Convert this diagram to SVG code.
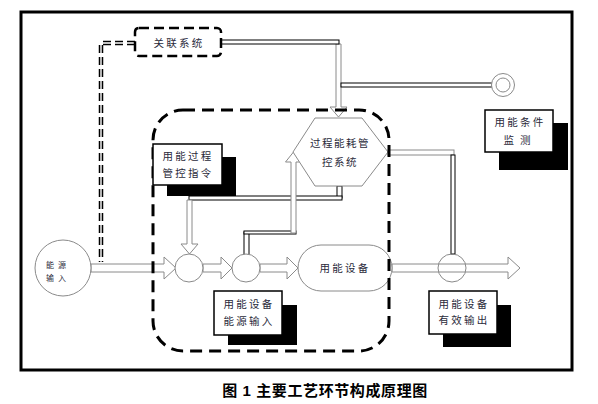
<svg xmlns="http://www.w3.org/2000/svg" width="598" height="404" viewBox="0 0 598 404">
<style>
.t{font-family:"Noto Sans CJK SC","Liberation Sans",sans-serif;font-size:10.5px;fill:#2a2a3a;text-anchor:middle;letter-spacing:2.3px}
.ha{fill:#fff;stroke:#8a8a8a;stroke-width:1}
.bl{fill:#fff;stroke:#000;stroke-width:1}
.gc{fill:#fff;stroke:#8a8a8a;stroke-width:1}
.box{fill:#fff;stroke:#000;stroke-width:1.5}
.sh{fill:#000}
</style>
<rect x="0" y="0" width="598" height="404" fill="#fff"/>
<rect x="21" y="12" width="551" height="358" fill="none" stroke="#000" stroke-width="3"/>

<g id="connectors">
  <!-- dashed link from 关联系统 down to energy input -->
  <path d="M135,43 H101 V262" fill="none" stroke="#000" stroke-width="4.5" stroke-dasharray="8 4"/>
  <path d="M135,43 H101 V262" fill="none" stroke="#fff" stroke-width="1.4" stroke-dasharray="8 4"/>
  <!-- 关联系统 to hexagon -->
  <polygon class="ha" points="336,44 336,107 330,107 338.5,117 347,107 341,107 341,44"/>
  <rect class="bl" x="221" y="40" width="118" height="4"/>
  <!-- to condition monitor target -->
  <rect class="bl" x="341" y="83" width="151" height="4"/>
  <!-- main flow -->
  <polygon class="ha" points="91,264 164,264 164,257 176,268 164,279 164,272 91,272"/>
  <polygon class="ha" points="203,264 221,264 221,257 232,268 221,279 221,272 203,272"/>
  <polygon class="ha" points="260,264 287,264 287,257 298,268 287,279 287,272 260,272"/>
  <polygon class="ha" points="392,264 508,264 508,257 520,268 508,279 508,272 392,272"/>
  <!-- hexagon bottom to circle 1 -->
  <rect class="bl" x="337" y="186" width="5" height="12"/>
  <rect class="bl" x="189" y="196" width="153" height="4"/>
  <polygon class="ha" points="187,200 187,244 181,244 189.5,254 198,244 192,244 192,200"/>
  <!-- circle 2 to hexagon -->
  <rect class="bl" x="244" y="232" width="5" height="23"/>
  <rect class="bl" x="244" y="231" width="52" height="3"/>
  <polygon class="ha" points="291,233 291,162 285.5,162 293.5,152 301.5,162 296,162 296,233"/>
  <!-- hexagon to output circle -->
  <rect class="ha" x="388" y="150" width="66" height="5"/>
  <rect class="bl" x="451" y="155" width="4" height="99"/>
</g>

<g id="energy-input">
  <circle cx="63" cy="268" r="28" class="gc"/>
  <text class="t" x="58" y="268" style="font-size:8px;letter-spacing:4px">能源</text>
  <text class="t" x="58" y="281" style="font-size:8px;letter-spacing:4px">输入</text>
</g>
<g id="junction1"><circle cx="189" cy="268" r="14" class="gc"/></g>
<g id="junction2"><circle cx="246" cy="268" r="14" class="gc"/></g>
<g id="output-junction"><circle cx="452" cy="268" r="14" fill="none" stroke="#8a8a8a" stroke-width="1"/></g>

<g id="hexagon">
  <polygon points="315,118 362,118 388,152 362,186 315,186 293,152" class="gc"/>
  <text class="t" x="340" y="147" style="letter-spacing:1.5px">过程能耗管</text>
  <text class="t" x="340" y="166" style="letter-spacing:1.5px">控系统</text>
</g>

<g id="equipment">
  <rect x="298" y="245" width="94" height="46" rx="23" class="gc"/>
  <text class="t" x="345" y="272">用能设备</text>
</g>

<g id="target">
  <circle cx="503" cy="85" r="11.5" fill="#fff" stroke="#8a8a8a" stroke-width="1"/>
  <circle cx="503" cy="85" r="7" fill="none" stroke="#8a8a8a" stroke-width="1"/>
</g>

<g id="boundary">
  <rect x="153" y="110" width="236" height="241" rx="30" fill="none" stroke="#000" stroke-width="3" stroke-dasharray="12 7"/>
</g>

<g id="related-system">
  <rect x="135" y="28" width="86" height="28" rx="4" fill="#fff" stroke="#000" stroke-width="2.5" stroke-dasharray="10 5"/>
  <text class="t" x="179" y="47">关联系统</text>
</g>

<g id="process-command">
  <rect class="sh" x="167" y="157" width="69" height="39"/>
  <rect class="box" x="153" y="144" width="69" height="41"/>
  <text class="t" x="188" y="160">用能过程</text>
  <text class="t" x="188" y="177">管控指令</text>
</g>

<g id="equipment-input">
  <rect class="sh" x="228" y="305" width="69" height="40"/>
  <rect class="box" x="214" y="291" width="68" height="44"/>
  <text class="t" x="249" y="308">用能设备</text>
  <text class="t" x="249" y="325">能源输入</text>
</g>

<g id="equipment-output">
  <rect class="sh" x="443" y="305" width="68" height="42"/>
  <rect class="box" x="429" y="291" width="68" height="43"/>
  <text class="t" x="464" y="308">用能设备</text>
  <text class="t" x="464" y="324">有效输出</text>
</g>

<g id="condition-monitor">
  <rect class="sh" x="499" y="123" width="69" height="47"/>
  <rect class="box" x="485" y="110" width="68" height="42"/>
  <text class="t" x="520" y="126">用能条件</text>
  <text class="t" x="520" y="144" style="letter-spacing:6px">监测</text>
</g>

<text x="325" y="396" style="font-family:'Liberation Sans','Noto Sans CJK SC',sans-serif;font-size:15px;font-weight:bold;fill:#000;text-anchor:middle;letter-spacing:0.6px">图 1  主要工艺环节构成原理图</text>
</svg>
